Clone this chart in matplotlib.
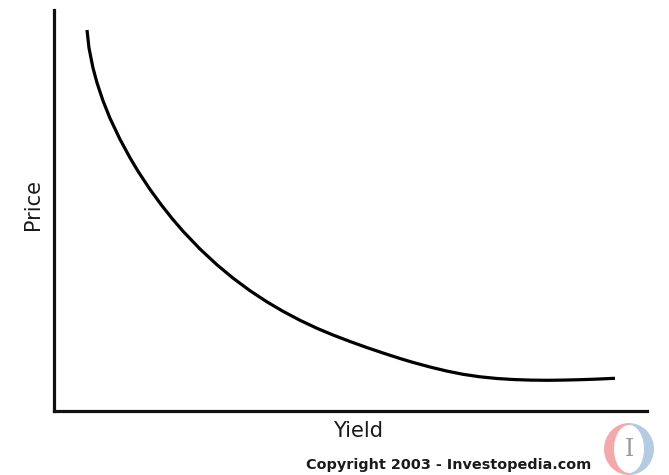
import matplotlib
matplotlib.use("Agg")
import matplotlib.pyplot as plt
import matplotlib.patches as patches
import matplotlib.transforms as mtransforms

# curve (arbitrary units, yield vs price)
yield_vals = [33, 35, 39, 43, 49, 56, 66, 76, 84, 96,
              107, 118, 129, 146, 163, 179, 196, 213, 229, 246,
              263, 279, 296, 313, 329, 346, 359, 376, 393, 409,
              426, 443, 459, 476, 493, 509, 526, 543, 561]
price_vals = [381, 363, 343, 328.2, 310.2, 292.7, 271.7, 253.2, 239.8, 221.6,
              206.5, 192.6, 179.8, 162, 146.2, 132.9, 120.3, 109.1, 99.7, 90.7,
              82.7, 76, 69.5, 63.4, 58, 52.5, 48.6, 44, 39.9, 36.7,
              34.2, 32.5, 31.5, 30.9, 30.7, 30.9, 31.3, 31.9, 32.7]

x_label = "Yield"
y_label = "Price"
credit = "Copyright 2003 - Investopedia.com"

W, H = 669, 475
fig = plt.figure(figsize=(W / 100, H / 100), dpi=100)

# main axes, only left and bottom spines
ax = fig.add_axes([54 / W, (H - 411) / H, 593 / W, 401 / H])
ax.plot(yield_vals, price_vals, color="black", lw=2.3,
        solid_capstyle="butt", solid_joinstyle="round")
ax.set_xlim(0, 593)
ax.set_ylim(0, 401)
for s in ["top", "right"]:
    ax.spines[s].set_visible(False)
for s in ["left", "bottom"]:
    ax.spines[s].set_linewidth(2.3)
    ax.spines[s].set_color("#111111")
ax.set_xticks([])
ax.set_yticks([])

# overlay in pixel units for labels and logo
ov = fig.add_axes([0, 0, 1, 1], zorder=5)
ov.set_xlim(0, W)
ov.set_ylim(H, 0)
ov.axis("off")
ov.patch.set_alpha(0)

ov.text(33, 205, y_label, rotation=90, ha="center", va="center", fontsize=15, color="#1a1a1a")
ov.text(358, 431, x_label, ha="center", va="center", fontsize=15, color="#1a1a1a")
ov.text(449, 465, credit, ha="center", va="center", fontsize=10.4, fontweight="bold", color="#1a1a1a")

# little logo: red/blue crescents with a grey I
cx, cy = 629, 449
tr = mtransforms.Affine2D().scale(25, 26).translate(cx, cy) + ov.transData
ov.add_patch(patches.Wedge((0, 0), 1, 90, 270, facecolor="#f3a9aa", edgecolor="none", transform=tr))
ov.add_patch(patches.Wedge((0, 0), 1, -90, 90, facecolor="#b4cbe2", edgecolor="none", transform=tr))
ov.add_patch(patches.Ellipse((cx, cy), 30, 48, facecolor="white", edgecolor="none"))
ov.text(cx, cy + 1, "I", ha="center", va="center", fontsize=17, color="#9a9a9a", family="DejaVu Serif")

fig.savefig("out.png", dpi=100)
